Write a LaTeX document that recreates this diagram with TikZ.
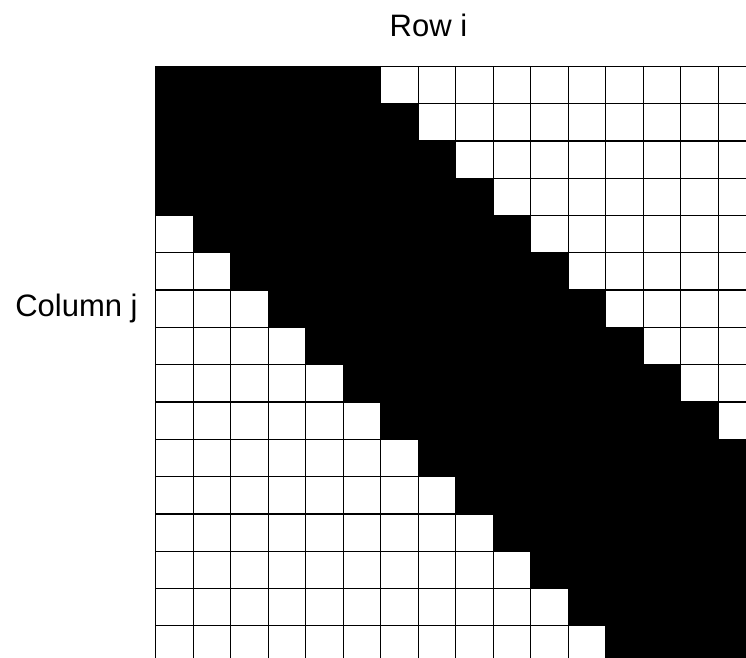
\documentclass[tikz,border=0pt]{standalone}
\usepackage{fontspec}
\setmainfont{Liberation Sans}
\begin{document}
\begin{tikzpicture}[x=1pt,y=-1pt,
  lab/.style={font=\fontsize{31}{37}\selectfont, inner sep=0pt, anchor=base},
  gridline/.style={line width=1.3pt, black}]
\useasboundingbox (0,0) rectangle (746,657);
\clip (0,0) rectangle (746,657);
\def\sx{37.5}
\def\sy{37.3}
\begin{scope}[shift={(155.7,66.3)}]
  \foreach \r in {0,...,15}{
    \foreach \c in {0,...,15}{
      \pgfmathtruncatemacro\dd{\c-\r}
      \ifnum\dd>-4 \ifnum\dd<6
        \fill[black] (\c*\sx,\r*\sy) rectangle ++(\sx,\sy);
      \fi\fi
    }}
  \foreach \c in {0,...,16}{
    \draw[gridline] (\c*\sx,0) -- (\c*\sx,16*\sy);
  }
  \foreach \r in {0,...,16}{
    \draw[gridline] (0,\r*\sy) -- (16*\sx,\r*\sy);
  }
\end{scope}
\node[lab] (rowlab) at (428.5,36.7) {Row i};
\node[lab] (collab) at (76.5,316) {Column j};
\end{tikzpicture}
\end{document}
